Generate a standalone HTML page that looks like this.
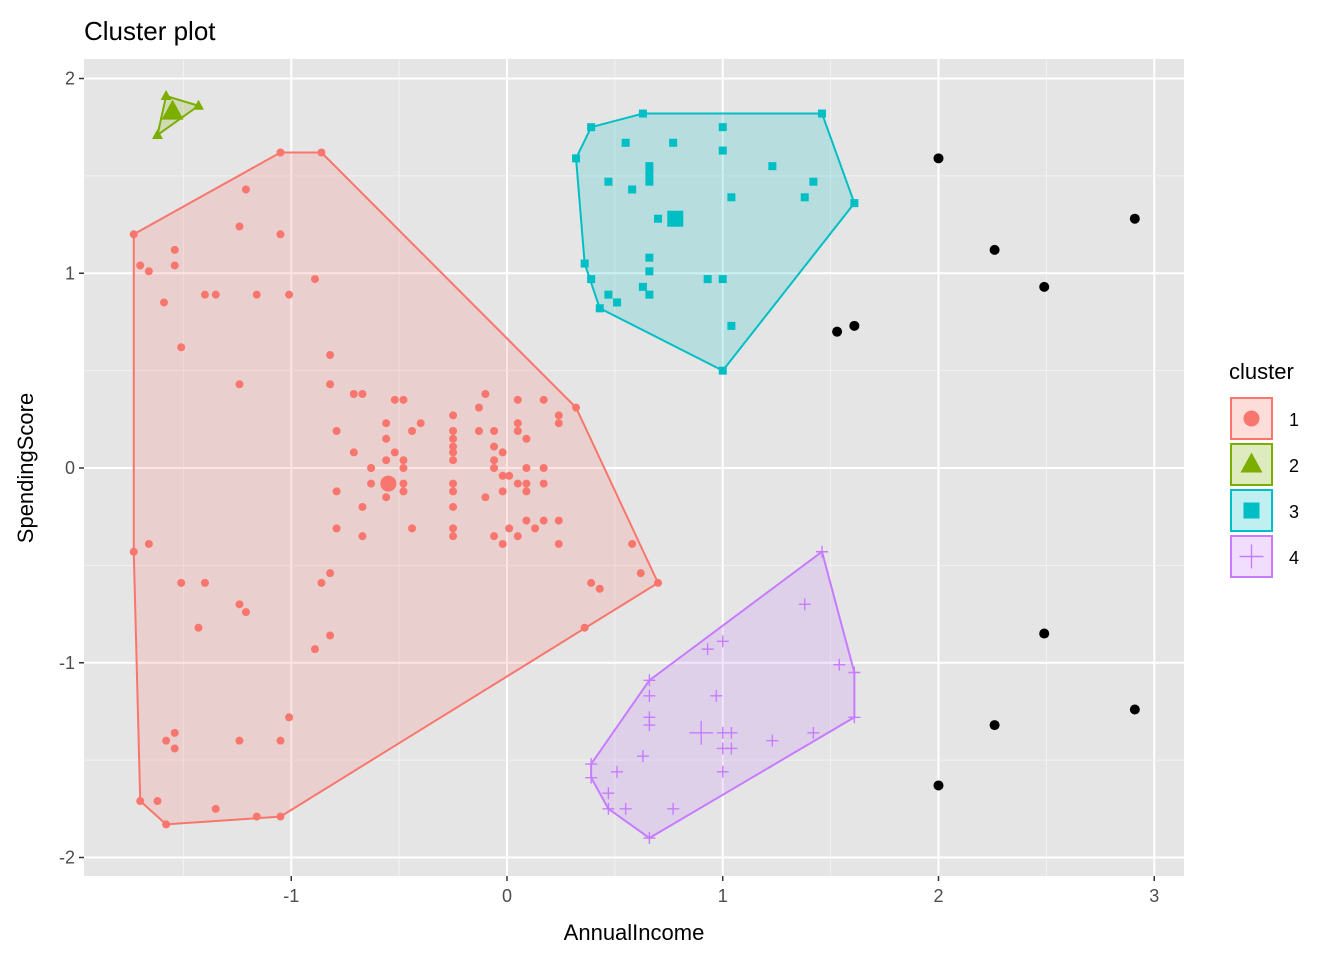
<!DOCTYPE html>
<html><head><meta charset="utf-8"><style>
body{margin:0;background:#fff;font-family:"Liberation Sans",sans-serif}
svg text{font-family:"Liberation Sans",sans-serif}
</style></head><body>
<svg id="c" width="1344" height="960" xmlns="http://www.w3.org/2000/svg">
<rect x="84" y="59" width="1100" height="817" fill="#e5e5e5"/>
<g id="grid"></g>
<g id="hulls"></g>
<g id="pts"></g>
<g id="axes"></g>
<text x="84" y="40" font-size="26" fill="#000">Cluster plot</text>
<text x="634" y="940" font-size="22" text-anchor="middle" fill="#000">AnnualIncome</text>
<text x="33" y="468" font-size="22" text-anchor="middle" fill="#000" transform="rotate(-90 33 468)">SpendingScore</text>
<g id="legend">
<text x="1229" y="379" font-size="22" fill="#000">cluster</text>
</g>
</svg>
<script>
const xTicks=[-1,0,1,2,3];
const yTicks=[-2,-1,0,1,2];
const clusterIds=[1,2,3,4];
const colors=["#F8766D","#7CAE00","#00BFC4","#C77CFF"];
const c1x=[-1.73,-1.70,-1.66,-1.59,-1.54,-1.54,-1.51,-1.40,-1.35,-1.24,-1.21,-1.16,-1.05,-1.05,-1.01,-0.89,-0.86,-1.24,-1.73,-1.66,-1.51,-1.40,-1.43,-1.24,-1.21,-1.24,-1.05,-1.01,-0.89,-0.86,-0.82,-0.82,-1.58,-1.54,-1.54,-1.70,-1.62,-1.58,-1.35,-1.16,-1.05,-0.82,-0.82,-0.71,-0.67,-0.79,-0.71,-0.79,-0.79,-0.67,-0.67,-0.63,-0.56,-0.56,-0.56,-0.52,-0.48,-0.52,-0.48,-0.48,-0.48,-0.48,-0.44,-0.44,-0.40,-0.56,-0.56,-0.63,-0.25,-0.25,-0.25,-0.25,-0.25,-0.25,-0.25,-0.25,-0.25,-0.25,-0.25,-0.13,-0.13,-0.10,-0.06,-0.06,-0.06,-0.06,-0.10,-0.02,-0.02,-0.02,0.01,-0.02,-0.06,0.01,0.05,0.05,0.05,0.05,0.05,0.09,0.09,0.09,0.09,0.09,0.13,0.17,0.17,0.17,0.17,0.24,0.24,0.24,0.24,0.32,0.58,0.62,0.39,0.43,0.36,0.70];
const c1y=[1.20,1.04,1.01,0.85,1.12,1.04,0.62,0.89,0.89,1.24,1.43,0.89,1.62,1.20,0.89,0.97,1.62,0.43,-0.43,-0.39,-0.59,-0.59,-0.82,-0.70,-0.74,-1.40,-1.40,-1.28,-0.93,-0.59,-0.54,-0.86,-1.40,-1.36,-1.44,-1.71,-1.71,-1.83,-1.75,-1.79,-1.79,0.58,0.43,0.38,0.38,0.19,0.08,-0.12,-0.31,-0.35,-0.20,0,0.15,0.04,-0.15,0.35,0.35,0.08,0.04,0,-0.08,-0.12,0.19,-0.31,0.23,0.23,-0.08,-0.08,0.27,0.19,0.15,0.11,0.08,0.04,-0.08,-0.12,-0.20,-0.31,-0.35,0.31,0.19,0.38,0.19,0.11,0.04,0,-0.15,0.08,-0.12,-0.04,-0.04,-0.39,-0.35,-0.31,0.35,0.23,0.19,-0.08,-0.35,0,-0.08,-0.12,-0.27,0.15,-0.31,0.35,0,-0.08,-0.27,0.27,0.23,-0.27,-0.39,0.31,-0.39,-0.54,-0.59,-0.62,-0.82,-0.59];
const c2x=[-1.58,-1.62,-1.43];
const c2y=[1.91,1.71,1.86];
const c3x=[0.32,0.39,0.63,1.46,1.61,1.00,0.43,0.36,0.39,0.47,0.55,0.58,0.66,0.66,0.66,0.77,0.70,1.00,1.00,1.04,1.23,1.38,1.42,0.66,0.66,0.63,0.66,0.47,0.51,0.93,1.00,1.04];
const c3y=[1.59,1.75,1.82,1.82,1.36,0.50,0.82,1.05,0.97,1.47,1.67,1.43,1.55,1.51,1.47,1.67,1.28,1.75,1.63,1.39,1.55,1.39,1.47,1.08,1.01,0.93,0.89,0.89,0.85,0.97,0.97,0.73];
const c4x=[1.46,1.38,0.93,1.00,1.54,1.61,1.61,0.97,0.66,0.66,0.66,0.66,0.39,0.39,0.51,0.63,0.47,0.47,0.55,0.66,0.77,1.00,1.00,1.00,1.04,1.04,1.23,1.42];
const c4y=[-0.43,-0.70,-0.93,-0.89,-1.01,-1.05,-1.28,-1.17,-1.09,-1.17,-1.28,-1.32,-1.52,-1.59,-1.56,-1.48,-1.67,-1.75,-1.75,-1.90,-1.75,-1.36,-1.44,-1.56,-1.36,-1.44,-1.40,-1.36];
const centerX=[-0.55,-1.55,0.78,0.90];
const centerY=[-0.08,1.83,1.28,-1.36];
const outX=[2.0,2.26,2.49,2.91,1.53,1.61,2.49,2.26,2.91,2.0];
const outY=[1.59,1.12,0.93,1.28,0.70,0.73,-0.85,-1.32,-1.24,-1.63];

const NS="http://www.w3.org/2000/svg";
const X=v=>507+v*215.75, Y=v=>468-v*194.75;
const L=84,R=1184,T=59,B=876;
function mk(tag,attrs,parent){const e=document.createElementNS(NS,tag);for(const k in attrs)e.setAttribute(k,attrs[k]);parent.appendChild(e);return e;}
const grid=document.getElementById('grid'),axes=document.getElementById('axes');
xTicks.forEach((t,i)=>{
 const m=mk('line',{x1:X(t-0.5),x2:X(t-0.5),y1:T,y2:B,stroke:'#f2f2f2','stroke-width':1},grid);
 const g=mk('line',{x1:X(t),x2:X(t),y1:T,y2:B,stroke:'#fff','stroke-width':2},grid);
 
 mk('line',{x1:X(t),x2:X(t),y1:B,y2:B+5,stroke:'#333','stroke-width':1.5},axes);
 const tx=mk('text',{x:X(t),y:B+26,'font-size':18,'text-anchor':'middle',fill:'#4d4d4d'},axes);tx.textContent=t;
 
});
yTicks.forEach(t=>{
 if(t<2){const m=mk('line',{y1:Y(t+0.5),y2:Y(t+0.5),x1:L,x2:R,stroke:'#f2f2f2','stroke-width':1},grid);}
 const g=mk('line',{y1:Y(t),y2:Y(t),x1:L,x2:R,stroke:'#fff','stroke-width':2},grid);
 
 mk('line',{y1:Y(t),y2:Y(t),x1:L-5,x2:L,stroke:'#333','stroke-width':1.5},axes);
 const tx=mk('text',{x:L-9,y:Y(t)+6,'font-size':18,'text-anchor':'end',fill:'#4d4d4d'},axes);tx.textContent=t;
 
});
function hull(xs,ys){const p=xs.map((x,i)=>[X(x),Y(ys[i])]).sort((a,b)=>a[0]-b[0]||a[1]-b[1]);
 const cr=(o,a,b)=>(a[0]-o[0])*(b[1]-o[1])-(a[1]-o[1])*(b[0]-o[0]);const lo=[],up=[];
 for(const q of p){while(lo.length>=2&&cr(lo[lo.length-2],lo[lo.length-1],q)<=0)lo.pop();lo.push(q);}
 for(const q of p.slice().reverse()){while(up.length>=2&&cr(up[up.length-2],up[up.length-1],q)<=0)up.pop();up.push(q);}
 return lo.slice(0,-1).concat(up.slice(0,-1));}
const sets=[[c1x,c1y],[c2x,c2y],[c3x,c3y],[c4x,c4y]];
const hg=document.getElementById('hulls'),pg=document.getElementById('pts');
function shape(k,x,y,s,parent){let e;const c=colors[k];
 if(k===0)e=mk('circle',{cx:x,cy:y,r:4*s,fill:c},parent);
 else if(k===1)e=mk('polygon',{points:`${x},${y-6*s} ${x-5.5*s},${y+4*s} ${x+5.5*s},${y+4*s}`,fill:c},parent);
 else if(k===2)e=mk('rect',{x:x-4*s,y:y-4*s,width:8*s,height:8*s,fill:c},parent);
 else e=mk('path',{d:`M${x-6*s},${y}H${x+6*s}M${x},${y-6*s}V${y+6*s}`,stroke:c,'stroke-width':1.4,fill:'none'},parent);
 return e;}
sets.forEach(([xs,ys],k)=>{
 const h=hull(xs,ys);
 const poly=mk('polygon',{points:h.map(p=>p.join(',')).join(' '),fill:colors[k],'fill-opacity':0.2,stroke:colors[k],'stroke-width':2},hg);
 
 xs.forEach((x,i)=>{const e=shape(k,X(x),Y(ys[i]),1,pg);
  });
 const c=shape(k,X(centerX[k]),Y(centerY[k]),2,pg);
 
});
outX.forEach((x,i)=>{const e=mk('circle',{cx:X(x),cy:Y(outY[i]),r:5,fill:'#000'},pg);
 });
const lg=document.getElementById('legend');
clusterIds.forEach((id,k)=>{const y0=398+k*46;
 const r=mk('rect',{x:1231,y:y0,width:41,height:41,fill:colors[k],'fill-opacity':0.25,stroke:colors[k],'stroke-width':2},lg);
 
 shape(k,1251.5,y0+20.5,2,lg);
 const t=mk('text',{x:1289,y:y0+28,'font-size':18,fill:'#000'},lg);t.textContent=id;
 
});
</script>
</body></html>
